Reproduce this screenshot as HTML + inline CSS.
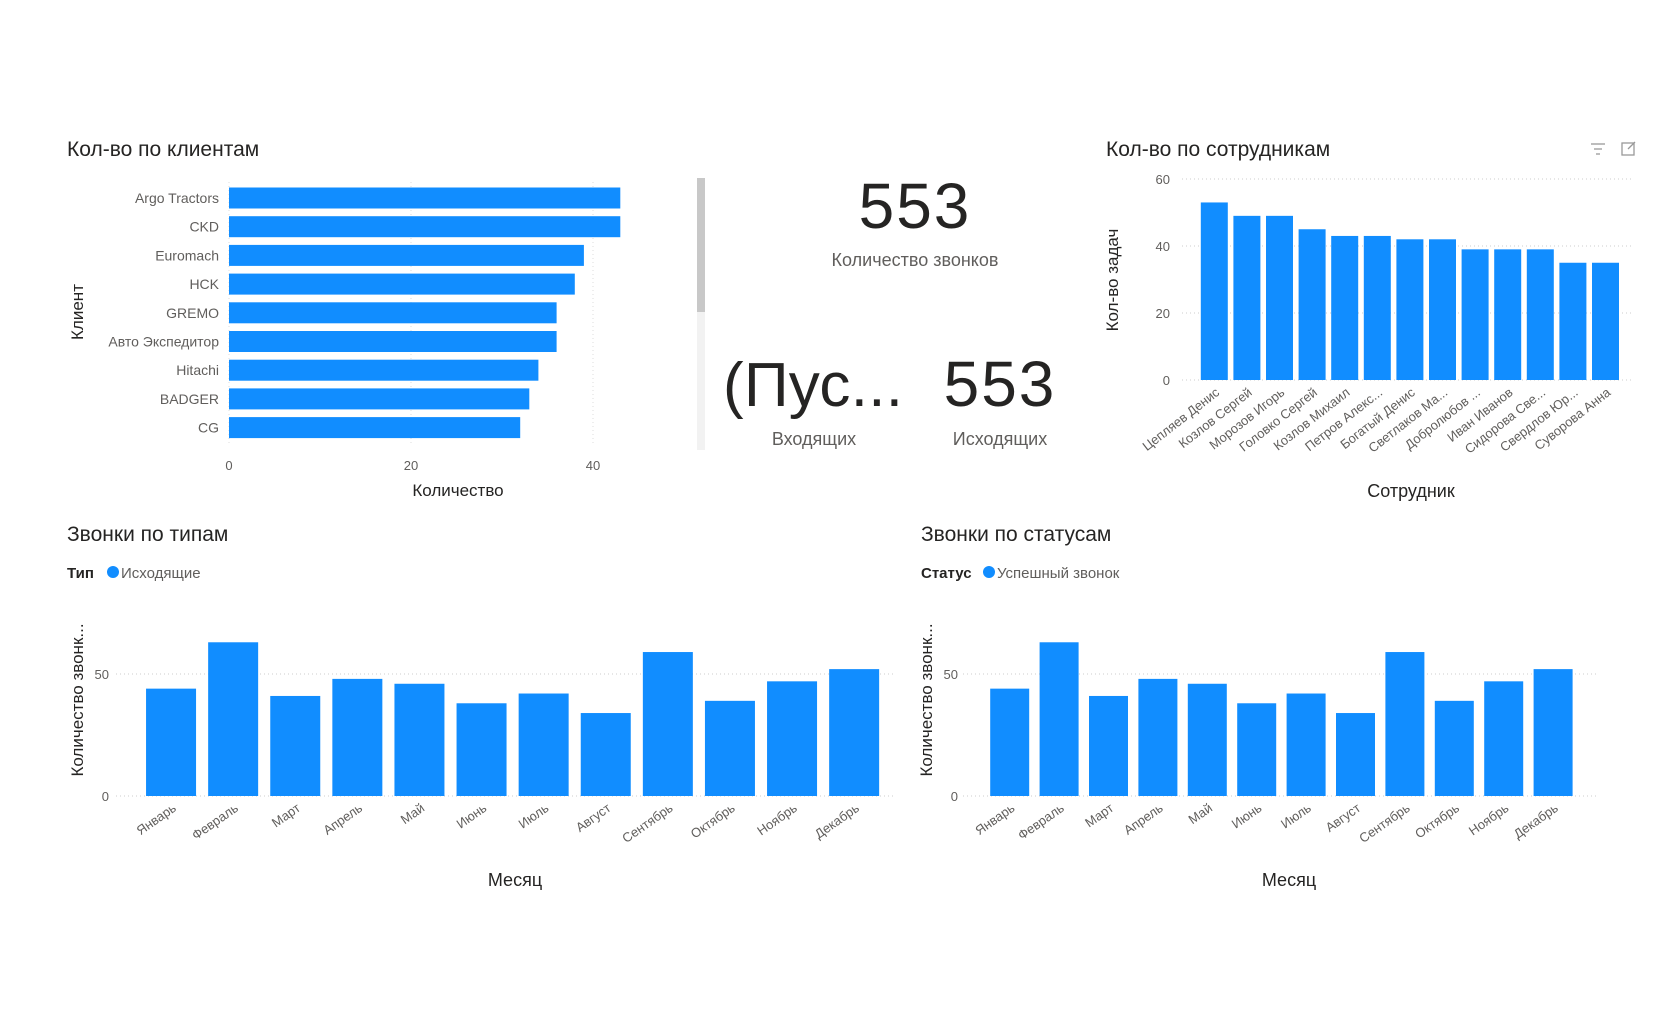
<!DOCTYPE html>
<html><head><meta charset="utf-8"><style>
html,body{margin:0;padding:0;background:#fff;}
svg{display:block;font-family:"Liberation Sans","Noto Sans CJK SC",sans-serif;}
</style></head><body>
<svg id="dash" width="1680" height="1010" viewBox="0 0 1680 1010" xmlns="http://www.w3.org/2000/svg">
<rect width="1680" height="1010" fill="#fff"/>
<g><text x="67" y="156" font-size="21" fill="#252423">Кол-во по клиентам</text></g>
<g><text x="1106" y="156" font-size="21" fill="#252423">Кол-во по сотрудникам</text></g>
<g stroke="#999" stroke-width="1.3"><line x1="1591" y1="144" x2="1605" y2="144"/><line x1="1594" y1="149" x2="1602" y2="149"/><line x1="1596" y1="154" x2="1600" y2="154"/></g>
<g fill="none" stroke="#999" stroke-width="1.3"><rect x="1622" y="143" width="12" height="12"/><line x1="1628" y1="149" x2="1635" y2="142"/></g>
<g><text x="67" y="541" font-size="21" fill="#252423">Звонки по типам</text></g>
<g><text x="921" y="541" font-size="21" fill="#252423">Звонки по статусам</text></g>
<g><text x="67" y="578" font-size="15" font-weight="bold" fill="#252423">Тип</text><circle cx="113" cy="572" r="6" fill="#118DFF"/><text x="121" y="578" font-size="15" fill="#605E5C">Исходящие</text></g>
<g><text x="921" y="578" font-size="15" font-weight="bold" fill="#252423">Статус</text><circle cx="989" cy="572" r="6" fill="#118DFF"/><text x="997" y="578" font-size="15" fill="#605E5C">Успешный звонок</text></g>
<g><text x="915" y="228" font-size="64" text-anchor="middle" fill="#252423" letter-spacing="2">553</text><text x="915" y="266" font-size="18" text-anchor="middle" fill="#605E5C">Количество звонков</text></g>
<g><text x="813" y="406" font-size="62" text-anchor="middle" fill="#252423" textLength="180">(Пус...</text><text x="814" y="445" font-size="18" text-anchor="middle" fill="#605E5C">Входящих</text></g>
<g><text x="1000" y="406" font-size="64" text-anchor="middle" fill="#252423" letter-spacing="2">553</text><text x="1000" y="445" font-size="18" text-anchor="middle" fill="#605E5C">Исходящих</text></g>
<g><rect x="697" y="178" width="8" height="272" fill="#f2f2f2"/><rect x="697" y="178" width="8" height="134" fill="#c8c8c8"/></g>
</svg>
<script>
const clients=["Argo Tractors","CKD","Euromach","HCK","GREMO","Авто Экспедитор","Hitachi","BADGER","CG"];
const clientValues=[43,43,39,38,36,36,34,33,32];
const clientTicks=[0,20,40];
const employees=["Цепляев Денис","Козлов Сергей","Морозов Игорь","Головко Сергей","Козлов Михаил","Петров Алекс...","Богатый Денис","Светлаков Ма...","Добролюбов ...","Иван Иванов","Сидорова Све...","Свердлов Юр...","Суворова Анна"];
const employeeValues=[53,49,49,45,43,43,42,42,39,39,39,35,35];
const employeeTicks=[0,20,40,60];
const months=["Январь","Февраль","Март","Апрель","Май","Июнь","Июль","Август","Сентябрь","Октябрь","Ноябрь","Декабрь"];
const typeValues=[44,63,41,48,46,38,42,34,59,39,47,52];
const statusValues=[44,63,41,48,46,38,42,34,59,39,47,52];
const monthTicks=[0,50];

const NS="http://www.w3.org/2000/svg";
const svg=document.getElementById('dash');
function mk(tag,attrs,parent,txt){const e=document.createElementNS(NS,tag);for(const k in attrs)e.setAttribute(k,attrs[k]);if(txt!==undefined)e.textContent=txt;(parent||svg).appendChild(e);return e;}
const BLUE="#118DFF",GRAY="#605E5C";

(function(){
  const g=mk('g',{});
  
  
  const x=v=>229+v*9.1;
  const rowY=i=>198+i*28.7;
  clientTicks.forEach(t=>{
    const l=mk('line',{x1:x(t),x2:x(t),y1:182,y2:444,stroke:"#ddd","stroke-dasharray":"1 3"},g);
    
    
    const tx=mk('text',{x:x(t),y:470,"font-size":13,fill:GRAY,"text-anchor":"middle"},g,String(t));
    
    
  });
  clients.forEach((c,i)=>{
    const r=mk('rect',{x:x(0),y:rowY(i)-10.5,width:x(clientValues[i])-x(0),height:21,fill:BLUE},g);
    
    
    const t=mk('text',{x:219,y:rowY(i)+5,"font-size":14,fill:GRAY,"text-anchor":"end"},g,c);
    
    
  });
  const xt=mk('text',{x:458,y:496,"font-size":17,fill:"#252423","text-anchor":"middle"},g,"Количество");
  
  
  const yt=mk('text',{x:0,y:0,"font-size":17,fill:"#252423","text-anchor":"middle",transform:"translate(83,312) rotate(-90)"},g,"Клиент");
  
  
})();

function columnChart(o){
  const g=mk('g',{});
  
  
  const y=v=>o.y0-v*o.scale;
  o.ticks.forEach(t=>{
    const l=mk('line',{x1:o.gx1,x2:o.gx2,y1:y(t),y2:y(t),stroke:"#ccc","stroke-dasharray":"1 3"},g);
    
    
    const tx=mk('text',{x:o.tickX,y:y(t)+5,"font-size":13,fill:GRAY,"text-anchor":"end"},g,String(t));
    
    
  });
  o.cats.forEach((c,i)=>{
    const cx=o.x0+o.pitch*(i+0.5);
    const v=o.vals[i];
    const r=mk('rect',{x:cx-o.bw/2,y:y(v),width:o.bw,height:y(0)-y(v),fill:BLUE},g);
    
    
    const t=mk('text',{x:0,y:0,"font-size":13,fill:GRAY,"text-anchor":"end",transform:`translate(${cx+6},${o.y0+14}) rotate(${o.rot||-35})`},g,c);
    
    
  });
  const xt=mk('text',{x:o.xtX,y:o.xtY,"font-size":18,fill:"#252423","text-anchor":"middle"},g,o.xTitle);
  
  
  const yt=mk('text',{x:0,y:0,"font-size":17,fill:"#252423","text-anchor":"middle",transform:`translate(${o.ytX},${o.ytY}) rotate(-90)`},g,o.yTitle);
  
  
}

columnChart({name:'employee-bar-chart',cats:employees,vals:employeeValues,ticks:employeeTicks,y0:380,scale:3.35,x0:1198,pitch:32.6,bw:27,gx1:1182,gx2:1632,tickX:1170,xtX:1411,xtY:497,xTitle:"Сотрудник",ytX:1118,ytY:280,yTitle:"Кол-во задач",rot:-38});
columnChart({name:'calls-by-type-chart',cats:months,vals:typeValues,ticks:monthTicks,y0:796,scale:2.44,x0:140,pitch:62.1,bw:50,gx1:116,gx2:894,tickX:109,xtX:515,xtY:886,xTitle:"Месяц",ytX:83,ytY:700,yTitle:"Количество звонк..."});
columnChart({name:'calls-by-status-chart',cats:months,vals:statusValues,ticks:monthTicks,y0:796,scale:2.44,x0:985,pitch:49.4,bw:39,gx1:963,gx2:1597,tickX:958,xtX:1289,xtY:886,xTitle:"Месяц",ytX:932,ytY:700,yTitle:"Количество звонк..."});
</script>
</body></html>
